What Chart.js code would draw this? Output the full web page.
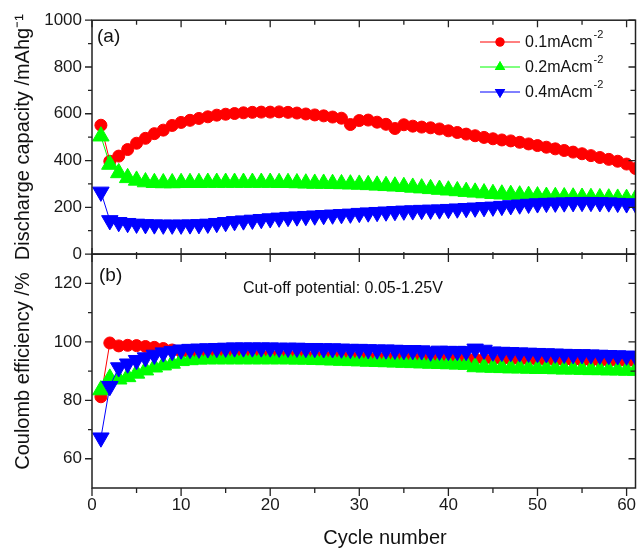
<!DOCTYPE html>
<html><head><meta charset="utf-8">
<script src="https://cdn.jsdelivr.net/npm/chart.js@4.4.1/dist/chart.umd.min.js"></script>
<style>html,body{margin:0;padding:0;overflow:hidden;background:#fff}#wrap{width:646px;height:549px}</style>
</head><body><div id="wrap"><canvas id="c" width="646" height="549"></canvas></div>
<script>
// ---------- data ----------
const cycles = [1,2,3,4,5,6,7,8,9,10,11,12,13,14,15,16,17,18,19,20,21,22,23,24,25,26,27,28,29,30,31,32,33,34,35,36,37,38,39,40,41,42,43,44,45,46,47,48,49,50,51,52,53,54,55,56,57,58,59,60,61];
const seriesLabels = ['0.1mAcm⁻²', '0.2mAcm⁻²', '0.4mAcm⁻²'];
const legendBase = ['0.1mAcm', '0.2mAcm', '0.4mAcm'];
const legendSup = '-2';
// (a) discharge capacity, mAh/g
const capacity01 = [551,397,419,447,474,495,515,530,550,563,572,580,587,594,598,601,604,606,607,607,608,606,603,599,595,591,586,581,554,571,573,564,555,537,553,547,543,540,535,527,520,513,506,499,493,488,484,478,471,464,457,450,443,436,429,421,413,405,397,385,366];
const capacity02 = [504,383,347,326,315,308,305,304,304,305,305,305,306,306,306,306,306,306,306,306,305,305,304,303,302,302,301,300,299,298,296,294,292,290,288,285,282,279,276,273,270,267,264,261,258,256,254,252,250,248,246,245,244,243,242,241,240,239,238,237,236];
const capacity04 = [266,144,136,132,129,127,126,125,125,125,126,127,129,132,136,140,143,146,149,152,155,158,160,162,164,166,168,170,172,175,177,179,181,183,185,186,188,189,190,192,194,196,198,200,202,205,208,211,214,216,218,219,220,221,222,222,221,220,218,216,215];
// (b) coulomb efficiency, %
const efficiency01 = [81.2,99.6,98.6,98.8,98.7,98.4,98.1,97.7,97.2,96.7,96.3,96.0,95.8,95.7,95.6,95.6,95.5,95.5,95.4,95.4,95.3,95.3,95.2,95.2,95.1,95.1,95.0,95.0,94.9,94.9,94.8,94.8,94.7,94.7,94.6,94.6,94.5,94.5,94.4,94.4,94.3,94.3,94.2,94.1,94.1,94.0,94.0,93.9,93.9,93.8,93.8,93.7,93.7,93.6,93.6,93.5,93.5,93.4,93.4,93.3,93.3];
const efficiency02 = [83.5,87.5,87.2,88.0,89.2,90.3,91.3,92.0,92.6,93.5,93.8,94.0,94.1,94.1,94.1,94.1,94.1,94.1,94.1,94.1,94.1,94.1,94.0,94.0,93.9,93.8,93.7,93.6,93.5,93.4,93.3,93.2,93.1,93.0,92.9,92.8,92.7,92.6,92.5,92.4,92.3,92.2,91.4,91.3,91.2,91.1,91.0,91.0,90.9,90.8,90.8,90.7,90.6,90.6,90.5,90.4,90.4,90.3,90.3,90.2,90.2];
const efficiency04 = [67.2,84.8,91.2,92.5,93.7,94.6,95.5,96.3,96.8,97.3,97.5,97.6,97.7,97.8,97.9,98.0,98.0,98.0,98.0,98.0,97.9,97.9,97.9,97.8,97.8,97.7,97.7,97.6,97.5,97.5,97.4,97.3,97.3,97.2,97.1,97.1,97.0,96.6,96.9,96.8,96.8,96.8,97.6,97.2,96.6,96.5,96.4,96.3,96.2,96.1,96.0,95.9,95.8,95.7,95.7,95.6,95.5,95.4,95.3,95.2,95.1];
// ticks
const xMajorTicks = [0,10,20,30,40,50,60];
const xMinorTicks = [5,15,25,35,45,55];
const capMajorTicks = [0,200,400,600,800,1000];
const capMinorTicks = [100,300,500,700,900];
const effMajorTicks = [60,80,100,120];
const effMinorTicks = [70,90,110];
// texts
const xTitle = 'Cycle number';
const yTitleA = 'Discharge capacity /mAhg⁻¹';
const yTitleB = 'Coulomb efficiency /%';
const panelA = '(a)';
const panelB = '(b)';
const noteB = 'Cut-off potential: 0.05-1.25V';

// ---------- styles ----------
const FONT = "'Liberation Sans', Arial, sans-serif";
const colors = ['#ff0000', '#00ff00', '#0000ff'];
const styles = ['circle', 'triangle', 'triangle'];
const rotations = [0, 0, 180];
const radii = [6, 9.5, 9.5];
const orders = [3, 2, 1];

const toXY = vals => cycles.map((c, i) => ({x: c, y: vals[i]}));
const capSets = [capacity01, capacity02, capacity04];
const effSets = [efficiency01, efficiency02, efficiency04];
const datasets = [];
[capSets, effSets].forEach((sets, p) => {
  sets.forEach((vals, i) => {
    datasets.push({
      label: seriesLabels[i],
      data: toXY(vals),
      yAxisID: p === 0 ? 'yA' : 'yB',
      borderColor: colors[i],
      backgroundColor: colors[i],
      borderWidth: 1,
      pointStyle: styles[i],
      rotation: rotations[i],
      pointRadius: radii[i],
      pointBorderWidth: 1,
      pointBorderColor: colors[i],
      pointBackgroundColor: colors[i],
      order: orders[i],
      tension: 0
    });
  });
});

const tickFont = {family: FONT, size: 17};
const setTicks = arr => scale => { scale.ticks = arr.map(v => ({value: v})); };
const plainLabel = v => String(v);

const framePlugin = {
  id: 'frame',
  afterDraw(chart) {
    const {ctx, scales} = chart;
    const xs = scales.x, yA = scales.yA, yB = scales.yB;
    const L = xs.left, R = xs.right;
    const T = yA.getPixelForValue(1000);
    const M = yA.getPixelForValue(0);
    const B = yB.getPixelForValue(50);
    ctx.save();
    ctx.strokeStyle = '#222';
    ctx.lineWidth = 1.5;
    ctx.strokeRect(L, T, R - L, M - T);
    ctx.strokeRect(L, M, R - L, B - M);
    ctx.lineWidth = 1.3;
    ctx.beginPath();
    const vline = (x, y1, y2) => { ctx.moveTo(x, y1); ctx.lineTo(x, y2); };
    const hline = (y, x1, x2) => { ctx.moveTo(x1, y); ctx.lineTo(x2, y); };
    xMajorTicks.forEach(v => { const x = xs.getPixelForValue(v);
      vline(x, T, T + 7); vline(x, M - 6, M + 8); vline(x, B, B + 8); });
    xMinorTicks.forEach(v => { const x = xs.getPixelForValue(v);
      vline(x, T, T + 4.5); vline(x, M - 2, M + 5); vline(x, B, B + 5); });
    capMajorTicks.forEach(v => { const y = yA.getPixelForValue(v); hline(y, L - 7, L); hline(y, R - 7, R); });
    capMinorTicks.forEach(v => { const y = yA.getPixelForValue(v); hline(y, L - 4, L); hline(y, R - 5, R); });
    effMajorTicks.forEach(v => { const y = yB.getPixelForValue(v); hline(y, L - 7, L); hline(y, R - 7, R); });
    effMinorTicks.forEach(v => { const y = yB.getPixelForValue(v); hline(y, L - 4, L); hline(y, R - 5, R); });
    ctx.stroke();

    // texts
    ctx.fillStyle = '#111';
    ctx.textBaseline = 'middle';
    ctx.textAlign = 'left';
    ctx.font = `19px ${FONT}`;
    ctx.fillText(panelA, L + 5, T + 17);
    ctx.fillText(panelB, L + 7, M + 22);
    ctx.font = `16px ${FONT}`;
    ctx.fillText(noteB, 243, M + 34);
    ctx.font = `20px ${FONT}`;
    ctx.textAlign = 'center';
    ctx.fillText(xTitle, 385, 538);

    // legend
    const rows = [42, 67, 92];
    rows.forEach((y, i) => {
      ctx.strokeStyle = colors[i];
      ctx.lineWidth = 1;
      ctx.beginPath(); ctx.moveTo(480, y); ctx.lineTo(520, y); ctx.stroke();
      ctx.fillStyle = colors[i];
      Chart.helpers.drawPoint(ctx, {pointStyle: styles[i], rotation: rotations[i], radius: i === 0 ? 4.5 : 6, borderWidth: 0}, 500, y);
      ctx.fill();
      ctx.fillStyle = '#111';
      ctx.textAlign = 'left';
      ctx.font = `16px ${FONT}`;
      ctx.fillText(legendBase[i], 525, y + 1);
      const w = ctx.measureText(legendBase[i]).width;
      ctx.font = `11px ${FONT}`;
      ctx.fillText(legendSup, 525 + w + 1, y - 7);
    });
    ctx.restore();
  }
};

new Chart(document.getElementById('c'), {
  type: 'line',
  data: {datasets},
  options: {
    responsive: false,
    animation: false,
    devicePixelRatio: 1,
    layout: {padding: {top: 19, right: 3, left: 0, bottom: 0}},
    plugins: {legend: {display: false}, tooltip: {enabled: false}},
    scales: {
      x: {
        type: 'linear', position: 'bottom', min: 0, max: 61,
        afterBuildTicks: setTicks(xMajorTicks),
        afterFit: s => { s.height = 61; },
        grid: {display: false, drawTicks: false},
        border: {display: false},
        ticks: {font: tickFont, color: '#1a1a1a', padding: 7, autoSkip: false, maxRotation: 0, callback: plainLabel},
        title: {display: false, text: xTitle}
      },
      yB: {
        type: 'linear', position: 'left', stack: 'panels', stackWeight: 1,
        min: 50, max: 130,
        afterBuildTicks: setTicks(effMajorTicks),
        afterFit: s => { s.width = 92; },
        grid: {display: false, drawTicks: false},
        border: {display: false},
        ticks: {font: tickFont, color: '#1a1a1a', padding: 10, callback: plainLabel},
        title: {display: true, text: yTitleB, font: {family: FONT, size: 20}, color: '#111', padding: {top: 11, bottom: 0}}
      },
      yA: {
        type: 'linear', position: 'left', stack: 'panels', stackWeight: 1,
        min: 0, max: 1000,
        afterBuildTicks: setTicks(capMajorTicks),
        afterFit: s => { s.width = 92; },
        grid: {display: false, drawTicks: false},
        border: {display: false},
        ticks: {font: tickFont, color: '#1a1a1a', padding: 10, callback: plainLabel},
        title: {display: true, text: yTitleA, font: {family: FONT, size: 20}, color: '#111', padding: {top: 11, bottom: 0}}
      }
    }
  },
  plugins: [framePlugin]
});
</script>
</body></html>
